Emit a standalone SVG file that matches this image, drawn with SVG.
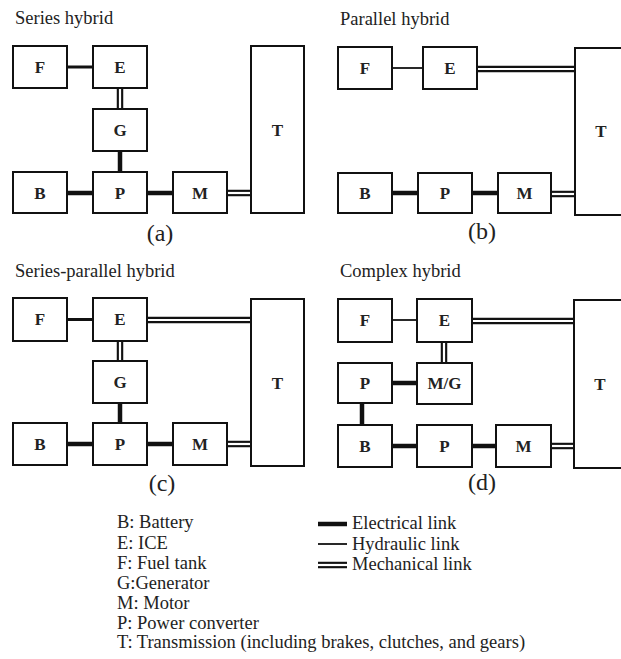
<svg xmlns="http://www.w3.org/2000/svg" width="621" height="659" viewBox="0 0 621 659">
<style>
  .box{fill:#fff;stroke:#111;stroke-width:2}
  .lbl{font-family:"Liberation Serif","Times New Roman",serif;font-size:17px;font-weight:bold;fill:#222;text-anchor:middle;dominant-baseline:central}
  .title{font-family:"Liberation Serif","Times New Roman",serif;font-size:18.5px;fill:#222}
  .cap{font-family:"Liberation Serif","Times New Roman",serif;font-size:24px;fill:#222;text-anchor:middle}
  .leg{font-family:"Liberation Serif","Times New Roman",serif;font-size:18.5px;fill:#222}
  .elec{stroke:#111;stroke-width:4.5;fill:none}
  .fuel{stroke:#111;stroke-width:3;fill:none}
  .hyd{stroke:#111;stroke-width:1.8;fill:none}
  .mo{stroke:#111;stroke-width:6.5;fill:none}
  .mi{stroke:#fff;stroke-width:2.2;fill:none}
</style>

<text class="title" x="15" y="24">Series hybrid</text>
<text class="title" x="340" y="25">Parallel hybrid</text>
<text class="title" x="15" y="277">Series-parallel hybrid</text>
<text class="title" x="340" y="277">Complex hybrid</text>

<g id="connectors">
  <!-- (a) -->
  <line class="fuel" x1="67" y1="67" x2="93" y2="67"/>
  <line class="mo" x1="120" y1="88" x2="120" y2="109"/><line class="mi" x1="120" y1="88" x2="120" y2="109"/>
  <line class="elec" x1="120" y1="151" x2="120" y2="172"/>
  <line class="elec" x1="67" y1="193" x2="93" y2="193"/>
  <line class="elec" x1="147" y1="193" x2="173" y2="193"/>
  <line class="mo" x1="227" y1="193" x2="251" y2="193"/><line class="mi" x1="227" y1="193" x2="251" y2="193"/>
  <!-- (b) -->
  <line class="hyd" x1="392" y1="68" x2="423" y2="68"/>
  <line class="mo" x1="477" y1="69" x2="575" y2="69"/><line class="mi" x1="477" y1="69" x2="575" y2="69"/>
  <line class="elec" x1="392" y1="193" x2="418" y2="193"/>
  <line class="elec" x1="472" y1="193" x2="498" y2="193"/>
  <line class="mo" x1="551" y1="194" x2="575" y2="194"/><line class="mi" x1="551" y1="194" x2="575" y2="194"/>
  <!-- (c) -->
  <line class="fuel" x1="67" y1="319.5" x2="93" y2="319.5"/>
  <line class="mo" x1="147" y1="320" x2="251" y2="320"/><line class="mi" x1="147" y1="320" x2="251" y2="320"/>
  <line class="mo" x1="120" y1="341" x2="120" y2="361"/><line class="mi" x1="120" y1="341" x2="120" y2="361"/>
  <line class="elec" x1="120" y1="403" x2="120" y2="423"/>
  <line class="elec" x1="67" y1="444" x2="93" y2="444"/>
  <line class="elec" x1="147" y1="444" x2="173" y2="444"/>
  <line class="mo" x1="227" y1="444" x2="251" y2="444"/><line class="mi" x1="227" y1="444" x2="251" y2="444"/>
  <!-- (d) -->
  <line class="hyd" x1="392" y1="320" x2="417" y2="320"/>
  <line class="mo" x1="472" y1="321" x2="574" y2="321"/><line class="mi" x1="472" y1="321" x2="574" y2="321"/>
  <line class="mo" x1="444" y1="342" x2="444" y2="363"/><line class="mi" x1="444" y1="342" x2="444" y2="363"/>
  <line class="elec" x1="392" y1="383" x2="417" y2="383"/>
  <line class="elec" x1="362" y1="403" x2="362" y2="425"/>
  <line class="elec" x1="392" y1="446" x2="417" y2="446"/>
  <line class="elec" x1="472" y1="446" x2="496" y2="446"/>
  <line class="mo" x1="551" y1="446" x2="574" y2="446"/><line class="mi" x1="551" y1="446" x2="574" y2="446"/>
</g>

<!-- (a) nodes -->
<g id="a-F"><rect class="box" x="13" y="46" width="54" height="42"/><text class="lbl" x="40" y="67">F</text></g>
<g id="a-E"><rect class="box" x="93" y="46" width="54" height="42"/><text class="lbl" x="120" y="67">E</text></g>
<g id="a-G"><rect class="box" x="93" y="109" width="54" height="42"/><text class="lbl" x="120" y="130">G</text></g>
<g id="a-B"><rect class="box" x="13" y="172" width="54" height="41"/><text class="lbl" x="40" y="193">B</text></g>
<g id="a-P"><rect class="box" x="93" y="172" width="54" height="41"/><text class="lbl" x="120" y="193">P</text></g>
<g id="a-M"><rect class="box" x="173" y="172" width="54" height="41"/><text class="lbl" x="200" y="193">M</text></g>
<g id="a-T"><rect class="box" x="251" y="46" width="53" height="167"/><text class="lbl" x="277.5" y="130">T</text></g>
<text class="cap" x="160" y="241">(a)</text>

<!-- (b) nodes -->
<g id="b-F"><rect class="box" x="338" y="47" width="54" height="42"/><text class="lbl" x="365" y="68">F</text></g>
<g id="b-E"><rect class="box" x="423" y="47" width="54" height="42"/><text class="lbl" x="450" y="68">E</text></g>
<g id="b-B"><rect class="box" x="338" y="173" width="54" height="40"/><text class="lbl" x="365" y="193">B</text></g>
<g id="b-P"><rect class="box" x="418" y="173" width="54" height="40"/><text class="lbl" x="445" y="193">P</text></g>
<g id="b-M"><rect class="box" x="498" y="173" width="53" height="40"/><text class="lbl" x="524.5" y="193">M</text></g>
<g id="b-T"><rect class="box" x="575" y="48" width="52" height="167"/><text class="lbl" x="601" y="131">T</text></g>
<text class="cap" x="482" y="239">(b)</text>

<!-- (c) nodes -->
<g id="c-F"><rect class="box" x="13" y="298" width="54" height="43"/><text class="lbl" x="40" y="319.5">F</text></g>
<g id="c-E"><rect class="box" x="93" y="298" width="54" height="43"/><text class="lbl" x="120" y="319.5">E</text></g>
<g id="c-G"><rect class="box" x="93" y="361" width="54" height="42"/><text class="lbl" x="120" y="382">G</text></g>
<g id="c-B"><rect class="box" x="13" y="423" width="54" height="42"/><text class="lbl" x="40" y="444">B</text></g>
<g id="c-P"><rect class="box" x="93" y="423" width="54" height="42"/><text class="lbl" x="120" y="444">P</text></g>
<g id="c-M"><rect class="box" x="173" y="423" width="54" height="42"/><text class="lbl" x="200" y="444">M</text></g>
<g id="c-T"><rect class="box" x="251" y="299" width="53" height="167"/><text class="lbl" x="277.5" y="383">T</text></g>
<text class="cap" x="162" y="491">(c)</text>

<!-- (d) nodes -->
<g id="d-F"><rect class="box" x="338" y="299" width="54" height="43"/><text class="lbl" x="365" y="320.5">F</text></g>
<g id="d-E"><rect class="box" x="417" y="299" width="55" height="43"/><text class="lbl" x="444.5" y="320.5">E</text></g>
<g id="d-P1"><rect class="box" x="338" y="363" width="54" height="40"/><text class="lbl" x="365" y="383">P</text></g>
<g id="d-MG"><rect class="box" x="417" y="363" width="55" height="41"/><text class="lbl" x="444.5" y="383.5">M/G</text></g>
<g id="d-B"><rect class="box" x="338" y="425" width="54" height="42"/><text class="lbl" x="365" y="446">B</text></g>
<g id="d-P2"><rect class="box" x="417" y="425" width="55" height="42"/><text class="lbl" x="444.5" y="446">P</text></g>
<g id="d-M"><rect class="box" x="496" y="425" width="55" height="42"/><text class="lbl" x="523.5" y="446">M</text></g>
<g id="d-T"><rect class="box" x="574" y="300" width="52" height="168"/><text class="lbl" x="600" y="384">T</text></g>
<text class="cap" x="482" y="490">(d)</text>

<!-- legend -->
<g id="legend">
  <text class="leg" x="117" y="528">B: Battery</text>
  <text class="leg" x="117" y="549">E: ICE</text>
  <text class="leg" x="117" y="569">F: Fuel tank</text>
  <text class="leg" x="117" y="589">G:Generator</text>
  <text class="leg" x="117" y="609">M: Motor</text>
  <text class="leg" x="117" y="629">P: Power converter</text>
  <text class="leg" x="117" y="648">T: Transmission (including brakes, clutches, and gears)</text>
  <line class="elec" x1="318" y1="524" x2="347" y2="524"/>
  <line class="hyd" x1="318" y1="544" x2="347" y2="544"/>
  <line class="mo" x1="318" y1="565" x2="347" y2="565"/><line class="mi" x1="318" y1="565" x2="347" y2="565"/>
  <text class="leg" x="352" y="529">Electrical link</text>
  <text class="leg" x="352" y="550">Hydraulic link</text>
  <text class="leg" x="352" y="570">Mechanical link</text>
</g>
</svg>
